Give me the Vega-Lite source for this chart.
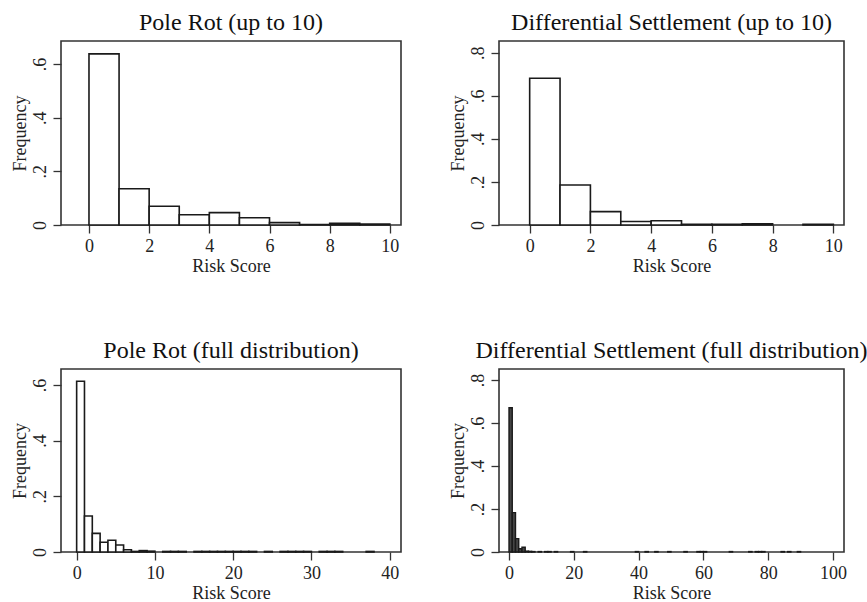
{
  "$schema": "https://vega.github.io/schema/vega-lite/v6.json",
  "background": "white",
  "padding": {"left": 10, "top": 10, "right": 0, "bottom": 0},
  "bounds": "flush",
  "columns": 2,
  "spacing": {"row": 144, "column": 98},
  "datasets": {
    "pr10": [
      {"lo": 0, "hi": 1, "freq": 0.638},
      {"lo": 1, "hi": 2, "freq": 0.135},
      {"lo": 2, "hi": 3, "freq": 0.070},
      {"lo": 3, "hi": 4, "freq": 0.038},
      {"lo": 4, "hi": 5, "freq": 0.046},
      {"lo": 5, "hi": 6, "freq": 0.027},
      {"lo": 6, "hi": 7, "freq": 0.009},
      {"lo": 7, "hi": 8, "freq": 0.002},
      {"lo": 8, "hi": 9, "freq": 0.006},
      {"lo": 9, "hi": 10, "freq": 0.004}
    ],
    "ds10": [
      {"lo": 0, "hi": 1, "freq": 0.681},
      {"lo": 1, "hi": 2, "freq": 0.186},
      {"lo": 2, "hi": 3, "freq": 0.062},
      {"lo": 3, "hi": 4, "freq": 0.016},
      {"lo": 4, "hi": 5, "freq": 0.020},
      {"lo": 5, "hi": 6, "freq": 0.003},
      {"lo": 6, "hi": 7, "freq": 0.003},
      {"lo": 7, "hi": 8, "freq": 0.005},
      {"lo": 9, "hi": 10, "freq": 0.003}
    ],
    "prfull": [
      {"lo": 0, "hi": 1, "freq": 0.613},
      {"lo": 1, "hi": 2, "freq": 0.129},
      {"lo": 2, "hi": 3, "freq": 0.067},
      {"lo": 3, "hi": 4, "freq": 0.035},
      {"lo": 4, "hi": 5, "freq": 0.042},
      {"lo": 5, "hi": 6, "freq": 0.025},
      {"lo": 6, "hi": 7, "freq": 0.008},
      {"lo": 7, "hi": 8, "freq": 0.002},
      {"lo": 8, "hi": 9, "freq": 0.005},
      {"lo": 9, "hi": 10, "freq": 0.003},
      {"lo": 11, "hi": 12, "freq": 0.002},
      {"lo": 12, "hi": 13, "freq": 0.002},
      {"lo": 13, "hi": 14, "freq": 0.002},
      {"lo": 15, "hi": 16, "freq": 0.002},
      {"lo": 16, "hi": 17, "freq": 0.002},
      {"lo": 17, "hi": 18, "freq": 0.002},
      {"lo": 18, "hi": 19, "freq": 0.002},
      {"lo": 19, "hi": 20, "freq": 0.002},
      {"lo": 20, "hi": 21, "freq": 0.002},
      {"lo": 21, "hi": 22, "freq": 0.002},
      {"lo": 22, "hi": 23, "freq": 0.002},
      {"lo": 24, "hi": 25, "freq": 0.002},
      {"lo": 26, "hi": 27, "freq": 0.002},
      {"lo": 27, "hi": 28, "freq": 0.002},
      {"lo": 28, "hi": 29, "freq": 0.002},
      {"lo": 29, "hi": 30, "freq": 0.002},
      {"lo": 31, "hi": 32, "freq": 0.002},
      {"lo": 32, "hi": 33, "freq": 0.002},
      {"lo": 33, "hi": 34, "freq": 0.002},
      {"lo": 37, "hi": 38, "freq": 0.002}
    ],
    "dsfull": [
      {"lo": 0, "hi": 1, "freq": 0.671},
      {"lo": 1, "hi": 2, "freq": 0.183},
      {"lo": 2, "hi": 3, "freq": 0.062},
      {"lo": 3, "hi": 4, "freq": 0.015},
      {"lo": 4, "hi": 5, "freq": 0.022},
      {"lo": 5, "hi": 6, "freq": 0.004},
      {"lo": 6, "hi": 7, "freq": 0.003},
      {"lo": 7, "hi": 8, "freq": 0.002},
      {"lo": 9, "hi": 10, "freq": 0.002},
      {"lo": 11, "hi": 12, "freq": 0.002},
      {"lo": 12, "hi": 13, "freq": 0.002},
      {"lo": 14, "hi": 15, "freq": 0.002},
      {"lo": 19, "hi": 20, "freq": 0.002},
      {"lo": 23, "hi": 24, "freq": 0.002},
      {"lo": 39, "hi": 40, "freq": 0.002},
      {"lo": 42, "hi": 43, "freq": 0.002},
      {"lo": 45, "hi": 46, "freq": 0.002},
      {"lo": 49, "hi": 50, "freq": 0.002},
      {"lo": 54, "hi": 55, "freq": 0.002},
      {"lo": 58, "hi": 59, "freq": 0.002},
      {"lo": 59, "hi": 60, "freq": 0.002},
      {"lo": 60, "hi": 61, "freq": 0.002},
      {"lo": 68, "hi": 69, "freq": 0.002},
      {"lo": 74, "hi": 75, "freq": 0.002},
      {"lo": 76, "hi": 77, "freq": 0.002},
      {"lo": 77, "hi": 78, "freq": 0.002},
      {"lo": 78, "hi": 79, "freq": 0.002},
      {"lo": 84, "hi": 85, "freq": 0.002},
      {"lo": 86, "hi": 87, "freq": 0.002},
      {"lo": 89, "hi": 90, "freq": 0.002}
    ]
  },
  "concat": [
    {
      "title": {"text": "Pole Rot (up to 10)"},
      "width": 340, "height": 184,
      "data": {"name": "pr10"},
      "mark": {"type": "bar", "fill": "white", "stroke": "#1a1a1a", "strokeWidth": 1.6},
      "encoding": {
        "x": {"field": "lo", "type": "quantitative", "scale": {"domain": [-0.93, 10.37], "nice": false, "zero": false}, "axis": {"values": [0, 2, 4, 6, 8, 10], "title": "Risk Score"}},
        "x2": {"field": "hi"},
        "y": {"field": "freq", "type": "quantitative", "scale": {"domain": [0, 0.686], "nice": false}, "axis": {"values": [0, 0.2, 0.4, 0.6], "title": "Frequency", "labelExpr": "datum.value == 0 ? '0' : '.' + round(datum.value * 10)"}},
        "y2": {"datum": 0}
      }
    },
    {
      "title": {"text": "Differential Settlement (up to 10)"},
      "width": 345, "height": 184,
      "data": {"name": "ds10"},
      "mark": {"type": "bar", "fill": "white", "stroke": "#1a1a1a", "strokeWidth": 1.6},
      "encoding": {
        "x": {"field": "lo", "type": "quantitative", "scale": {"domain": [-1.01, 10.35], "nice": false, "zero": false}, "axis": {"values": [0, 2, 4, 6, 8, 10], "title": "Risk Score"}},
        "x2": {"field": "hi"},
        "y": {"field": "freq", "type": "quantitative", "scale": {"domain": [0, 0.854], "nice": false}, "axis": {"values": [0, 0.2, 0.4, 0.6, 0.8], "title": "Frequency", "labelExpr": "datum.value == 0 ? '0' : '.' + round(datum.value * 10)"}},
        "y2": {"datum": 0}
      }
    },
    {
      "title": {"text": "Pole Rot (full distribution)"},
      "width": 340, "height": 183,
      "data": {"name": "prfull"},
      "mark": {"type": "bar", "fill": "white", "stroke": "#1a1a1a", "strokeWidth": 1.6},
      "encoding": {
        "x": {"field": "lo", "type": "quantitative", "scale": {"domain": [-2.0, 41.45], "nice": false, "zero": false}, "axis": {"values": [0, 10, 20, 30, 40], "title": "Risk Score"}},
        "x2": {"field": "hi"},
        "y": {"field": "freq", "type": "quantitative", "scale": {"domain": [0, 0.657], "nice": false}, "axis": {"values": [0, 0.2, 0.4, 0.6], "title": "Frequency", "labelExpr": "datum.value == 0 ? '0' : '.' + round(datum.value * 10)"}},
        "y2": {"datum": 0}
      }
    },
    {
      "title": {"text": "Differential Settlement (full distribution)"},
      "width": 345, "height": 183,
      "data": {"name": "dsfull"},
      "mark": {"type": "bar", "fill": "#444444", "stroke": "#1a1a1a", "strokeWidth": 1.4},
      "encoding": {
        "x": {"field": "lo", "type": "quantitative", "scale": {"domain": [-3.09, 103.4], "nice": false, "zero": false}, "axis": {"values": [0, 20, 40, 60, 80, 100], "title": "Risk Score"}},
        "x2": {"field": "hi"},
        "y": {"field": "freq", "type": "quantitative", "scale": {"domain": [0, 0.851], "nice": false}, "axis": {"values": [0, 0.2, 0.4, 0.6, 0.8], "title": "Frequency", "labelExpr": "datum.value == 0 ? '0' : '.' + round(datum.value * 10)"}},
        "y2": {"datum": 0}
      }
    }
  ],
  "config": {
    "font": "Liberation Serif",
    "view": {"stroke": "#333333", "strokeWidth": 1.6},
    "axis": {
      "domain": false,
      "grid": false,
      "tickColor": "#333333",
      "tickSize": 8,
      "tickWidth": 1.3,
      "labelFont": "Liberation Serif",
      "labelFontSize": 18,
      "labelColor": "#222222",
      "labelPadding": 4,
      "titleFont": "Liberation Serif",
      "titleFontSize": 18,
      "titleFontWeight": "normal",
      "titleColor": "#222222"
    },
    "axisX": {"titlePadding": 2},
    "axisY": {"labelAngle": -90, "labelAlign": "center", "labelBaseline": "bottom", "titlePadding": 2},
    "title": {"font": "Liberation Serif", "fontSize": 24, "fontWeight": "normal", "color": "#111111", "anchor": "middle", "frame": "group", "offset": 6}
  }
}
